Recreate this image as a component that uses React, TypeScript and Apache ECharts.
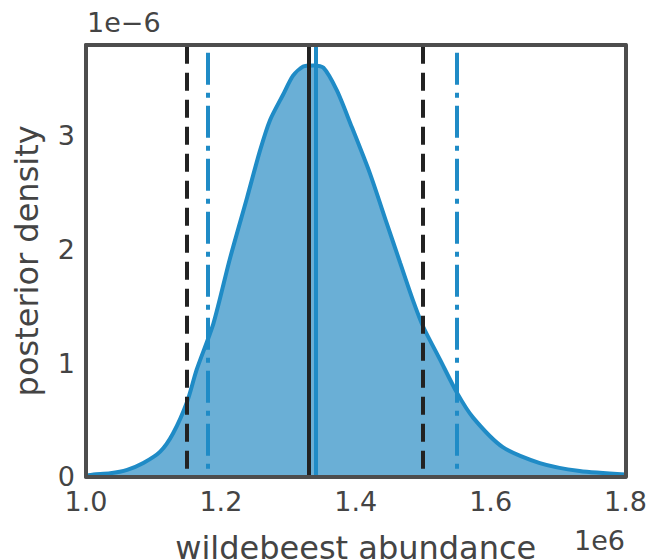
import React, { useEffect, useRef } from "react";
import * as echarts from "echarts";

// abundance in units of 1e6, density in units of 1e-6
const abundance = [1.0, 1.011, 1.036, 1.061, 1.085, 1.11, 1.129, 1.15, 1.164, 1.189, 1.213, 1.239, 1.258, 1.273, 1.292, 1.307, 1.322, 1.337, 1.352, 1.372, 1.392, 1.421, 1.446, 1.466, 1.485, 1.5, 1.525, 1.55, 1.574, 1.618, 1.673, 1.732, 1.8];
const density = [0.01, 0.02, 0.03, 0.06, 0.12, 0.22, 0.38, 0.66, 0.94, 1.35, 1.91, 2.46, 2.87, 3.14, 3.36, 3.53, 3.61, 3.62, 3.6, 3.4, 3.11, 2.67, 2.23, 1.88, 1.55, 1.32, 1.03, 0.74, 0.52, 0.26, 0.12, 0.05, 0.02];

const blackInterval = [1.15, 1.5];
const blueInterval = [1.178, 1.55];
const blackCenter = 1.326;
const blueCenter = 1.345;

const xTicks = { min: 1.0, max: 1.8, interval: 0.2 };
const yTicks = { min: 0, max: 3.8, interval: 1 };

const FONT = "DejaVu Sans";
const TEXT = "#444444";
const SPINE = "#4d4d4d";
const BLUE = "#1f8bc6";
const FILL = "#6aafd6";
const BLACK = "#222222";

export default function App() {
  const ref = useRef<HTMLDivElement>(null);
  useEffect(() => {
    if (!ref.current) return;
    const chart = echarts.init(ref.current, null, { renderer: "svg" });
    const pts = abundance.map((x, i) => [x, density[i]]);
    const axisLineStyle = { show: true, lineStyle: { color: SPINE, width: 4 } };
    const dashed = [18, 9];
    const dashDot = [32, 8, 5, 8];
    chart.setOption({
      animation: false,
      grid: { left: 86, right: 23.5, top: 45, bottom: 83.3, containLabel: false, outerBoundsMode: "none" },
      xAxis: [
        {
          type: "value",
          min: xTicks.min,
          max: xTicks.max,
          interval: xTicks.interval,
          z: 10,
          axisLine: { ...axisLineStyle, onZero: false },
          axisTick: { show: false },
          splitLine: { show: false },
          axisLabel: {
            margin: 11,
            fontFamily: FONT,
            fontSize: 27,
            color: TEXT,
            formatter: (v: number) => v.toFixed(1),
          },
          name: "wildebeest abundance",
          nameLocation: "middle",
          nameGap: 55,
          nameTextStyle: { fontFamily: FONT, fontSize: 32, color: TEXT },
        },
        {
          type: "value",
          position: "top",
          min: xTicks.min,
          max: xTicks.max,
          z: 10,
          axisLine: { ...axisLineStyle, onZero: false },
          axisTick: { show: false },
          axisLabel: { show: false },
          splitLine: { show: false },
        },
      ],
      yAxis: [
        {
          type: "value",
          min: yTicks.min,
          max: yTicks.max,
          interval: yTicks.interval,
          z: 10,
          axisLine: { ...axisLineStyle, onZero: false },
          axisTick: { show: false },
          splitLine: { show: false },
          axisLabel: {
            margin: 11,
            fontFamily: FONT,
            fontSize: 27,
            color: TEXT,
            showMaxLabel: false,
            formatter: (v: number) => (Number.isInteger(v) ? String(v) : ""),
          },
          name: "posterior density",
          nameLocation: "middle",
          nameGap: 43,
          nameTextStyle: { fontFamily: FONT, fontSize: 32, color: TEXT },
        },
        {
          type: "value",
          position: "right",
          min: yTicks.min,
          max: yTicks.max,
          z: 10,
          axisLine: { ...axisLineStyle, onZero: false },
          axisTick: { show: false },
          axisLabel: { show: false },
          splitLine: { show: false },
        },
      ],
      graphic: [
        {
          type: "text",
          left: 87,
          top: 9,
          style: { text: "1e\u22126", fontFamily: FONT, fontSize: 27, fill: TEXT },
        },
        {
          type: "text",
          right: 24,
          top: 527,
          style: { text: "1e6", fontFamily: FONT, fontSize: 27, fill: TEXT },
        },
      ],
      series: [
        {
          type: "line",
          data: pts,
          xAxisIndex: 0,
          yAxisIndex: 0,
          showSymbol: false,
          smooth: 0.25,
          lineStyle: { color: BLUE, width: 4 },
          areaStyle: { color: FILL, opacity: 1 },
          z: 2,
        },
        {
          type: "line",
          data: [],
          xAxisIndex: 0,
          yAxisIndex: 0,
          z: 3,
          markLine: {
            silent: true,
            symbol: ["none", "none"],
            label: { show: false },
            animation: false,
            data: [
              ...blackInterval.map((v) => ({ xAxis: v, lineStyle: { color: BLACK, width: 4, type: dashed, dashOffset: 19 } })),
              ...blueInterval.map((v) => ({ xAxis: v, lineStyle: { color: BLUE, width: 4, type: dashDot, dashOffset: 32 } })),
              { xAxis: blackCenter, lineStyle: { color: BLACK, width: 4, type: "solid" } },
              { xAxis: blueCenter, lineStyle: { color: BLUE, width: 4, type: "solid" } },
            ],
          },
        },
      ],
    });
    return () => chart.dispose();
  }, []);
  return <div ref={ref} style={{ width: 649, height: 560, position: "absolute", left: 0, top: 0 }} />;
}
